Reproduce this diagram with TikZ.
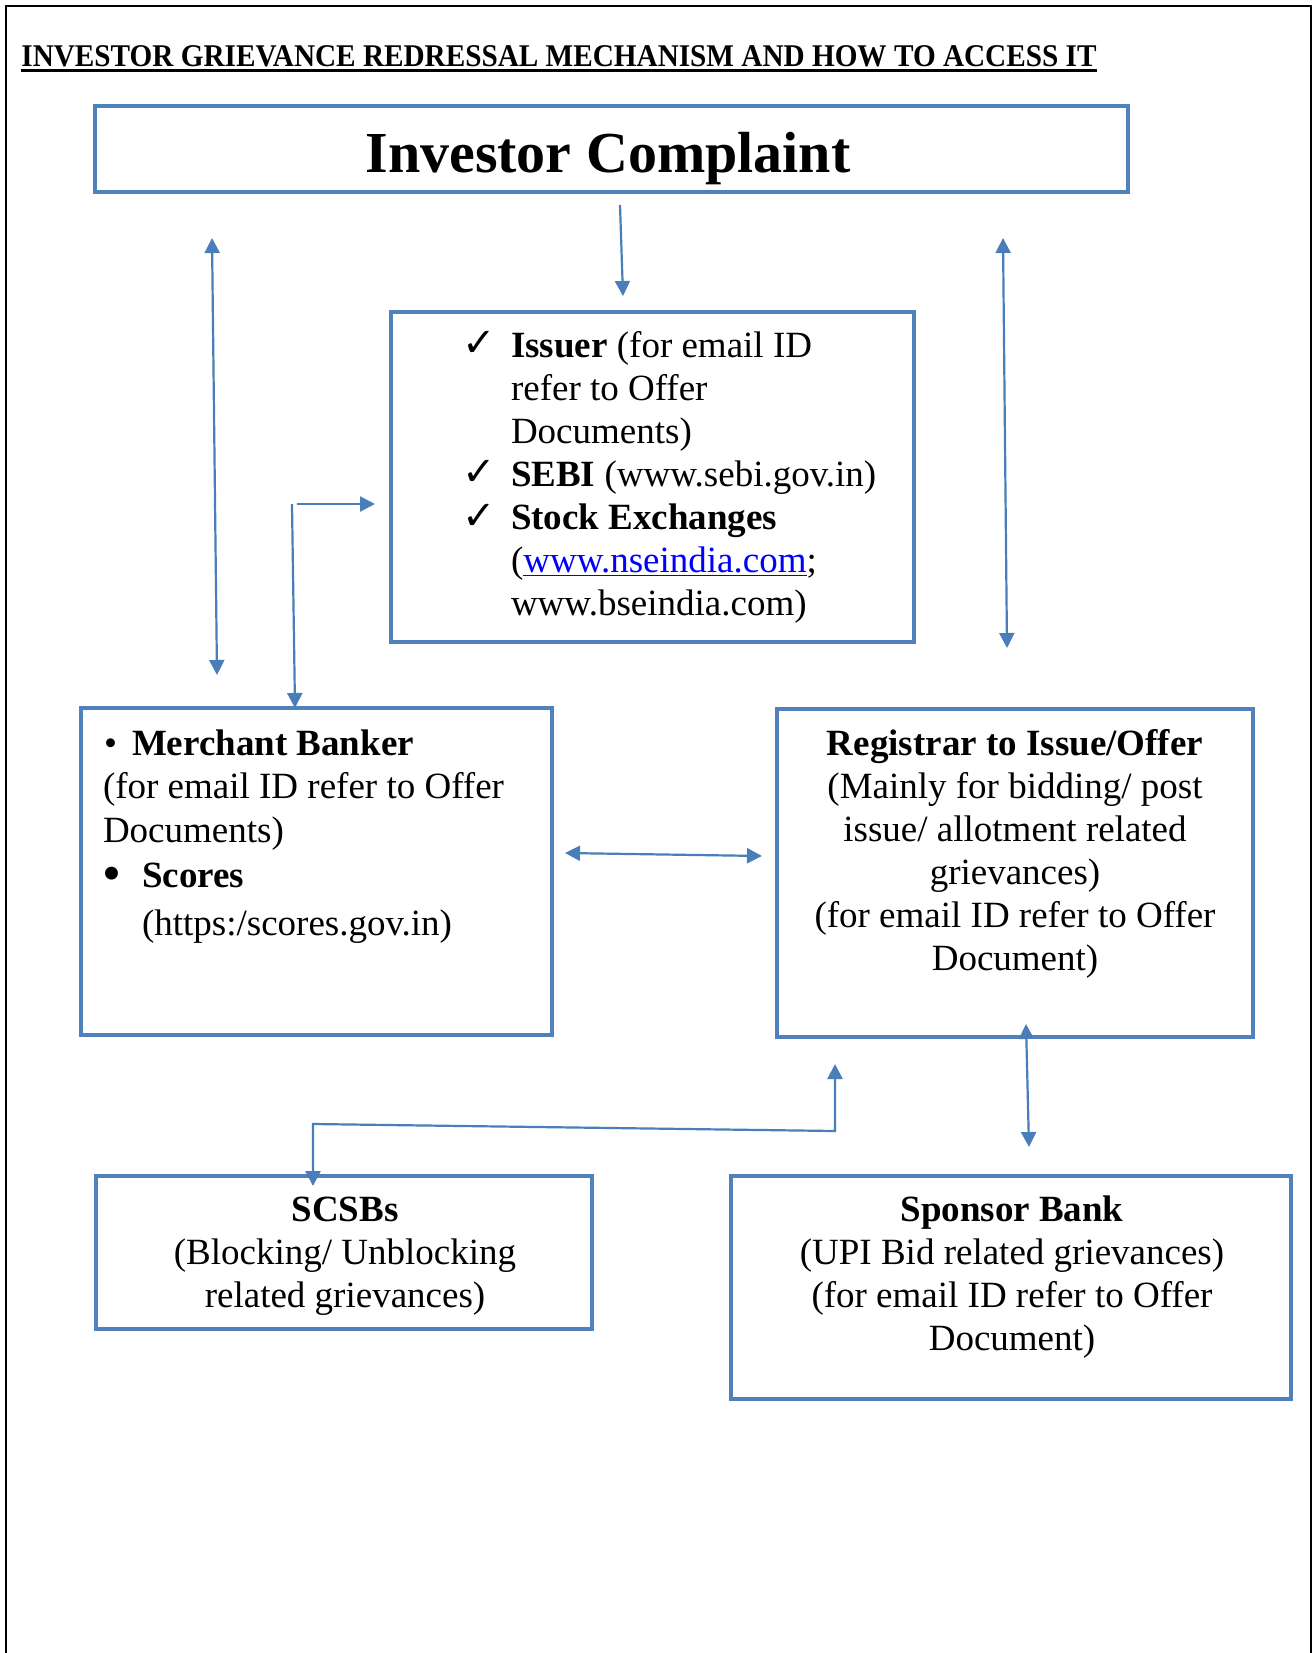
\documentclass[tikz,border=0pt]{standalone}
\usepackage{fontspec}
\setmainfont{Liberation Serif}
\newfontfamily\symfont{DejaVu Sans}
\usetikzlibrary{arrows.meta}
\definecolor{boxblue}{RGB}{79,129,189}
\definecolor{arrowblue}{RGB}{74,126,187}
\definecolor{linkblue}{RGB}{0,0,255}
\begin{document}
\begin{tikzpicture}[x=0.5pt,y=-0.5pt,
  box/.style={draw=boxblue,line width=2.2pt,inner sep=0pt,outer sep=0pt,anchor=north west},
  conn/.style={draw=arrowblue,line width=1.1pt},
  onetip/.style={-{Triangle[width=7.5pt,length=7.5pt]}},
  twotip/.style={{Triangle[width=7.5pt,length=7.5pt]}-{Triangle[width=7.5pt,length=7.5pt]}},
  txt/.style={inner sep=0pt,outer sep=0pt,font=\fontsize{18.5}{21.5}\selectfont},
  lt/.style={txt,anchor=base west},
  ct/.style={txt,anchor=base},
  chk/.style={inner sep=0pt,anchor=base west,font=\symfont\fontsize{20}{22}\selectfont}
]
\fill[white] (0,0) rectangle (1315,1653);
\useasboundingbox (0,0) rectangle (1315,1653);
% page frame
\draw[line width=0.9pt] (6,1660) -- (6,6) -- (1311,6) -- (1311,1660);

% title
\node[inner sep=0pt,anchor=base west] (title) at (21,67)
  {\fontsize{15.8}{18}\selectfont\bfseries\scalebox{0.925}[1]{INVESTOR GRIEVANCE REDRESSAL MECHANISM AND HOW TO ACCESS IT}};
\draw[line width=1.4pt] ([yshift=-1.8pt]title.base west) -- ([yshift=-1.8pt]title.base east);

% boxes
\node[box,minimum width=516.5pt,minimum height=43pt] (ic) at (95,106) {};
\node[box,minimum width=261.5pt,minimum height=165pt] (ctr) at (391,312) {};
\node[box,minimum width=235.5pt,minimum height=163.5pt] (mb) at (81,708) {};
\node[box,minimum width=238pt,minimum height=164pt] (rg) at (777,709) {};
\node[box,minimum width=248pt,minimum height=76.5pt] (sc) at (96,1176) {};
\node[box,minimum width=280pt,minimum height=111.5pt] (sp) at (731,1176) {};

% Investor complaint text
\node[inner sep=0pt,anchor=base] (ict) at (608,173) {\fontsize{29}{34}\selectfont\bfseries Investor Complaint};

% centre list
\node[chk] (k1) at (462,356) {✓};
\node[chk] (k2) at (462,485) {✓};
\node[chk] (k3) at (462,529) {✓};
\node[lt] (c1) at (511,357) {\textbf{Issuer} (for email ID};
\node[lt] (c2) at (511,400) {refer to Offer};
\node[lt] (c3) at (511,443) {Documents)};
\node[lt] (c4) at (511,486) {\textbf{SEBI} (www.sebi.gov.in)};
\node[lt] (c5) at (511,529) {\textbf{Stock Exchanges}};
\node[lt] (c6) at (511,572) {({\color{linkblue}\underline{www.nseindia.com}};};
\node[lt] (c7) at (511,615) {www.bseindia.com)};

% merchant banker
\node[lt] (mbb1) at (104,755) {\textbullet};
\node[lt] (m1) at (132,755) {\textbf{Merchant Banker}};
\node[lt] (m2) at (103,798) {(for email ID refer to Offer};
\node[lt] (m3) at (103,842) {Documents)};
\node[inner sep=0pt,anchor=base west,font=\fontsize{27}{30}\selectfont] (mbb2) at (102,891) {\textbullet};
\node[lt] (m4) at (142,887) {\textbf{Scores}};
\node[lt] (m5) at (142,935) {(https:/scores.gov.in)};

% registrar
\node[ct] (r1) at (1015,755) {\textbf{Registrar to Issue/Offer}};
\node[ct] (r2) at (1015,798) {(Mainly for bidding/ post};
\node[ct] (r3) at (1015,841) {issue/ allotment related};
\node[ct] (r4) at (1015,884) {grievances)};
\node[ct] (r5) at (1015,927) {(for email ID refer to Offer};
\node[ct] (r6) at (1015,970) {Document)};

% SCSBs
\node[ct] (s1) at (345,1221) {\textbf{SCSBs}};
\node[ct] (s2) at (345,1264) {(Blocking/ Unblocking};
\node[ct] (s3) at (345,1307) {related grievances)};

% Sponsor bank
\node[ct] (p1) at (1012,1221) {\textbf{Sponsor Bank}};
\node[ct] (p2) at (1012,1264) {(UPI Bid related grievances)};
\node[ct] (p3) at (1012,1307) {(for email ID refer to Offer};
\node[ct] (p4) at (1012,1350) {Document)};

% connector end points
\coordinate (a1s) at (620,205);  \coordinate (a1e) at (623,296);
\coordinate (a2s) at (212,238);  \coordinate (a2e) at (217,675);
\coordinate (a3s) at (1003,238); \coordinate (a3e) at (1007,648);
\coordinate (a4s) at (292,504);  \coordinate (a4e) at (295,708);
\coordinate (a5s) at (297,504);  \coordinate (a5e) at (375,504);
\coordinate (a6s) at (565,853);  \coordinate (a6e) at (762,856);
\coordinate (a7s) at (1026,1024); \coordinate (a7e) at (1029,1147);
\coordinate (b1) at (835,1064); \coordinate (b2) at (835,1131);
\coordinate (b3) at (313,1124); \coordinate (b4) at (313,1186);

% connectors
\draw[conn,onetip] (a1s) -- (a1e);
\draw[conn,twotip] (a2s) -- (a2e);
\draw[conn,twotip] (a3s) -- (a3e);
\draw[conn,onetip] (a4s) -- (a4e);
\draw[conn,onetip] (a5s) -- (a5e);
\draw[conn,twotip] (a6s) -- (a6e);
\draw[conn,twotip] (a7s) -- (a7e);
\draw[conn,twotip] (b1) -- (b2) -- (b3) -- (b4);
\end{tikzpicture}
\end{document}
